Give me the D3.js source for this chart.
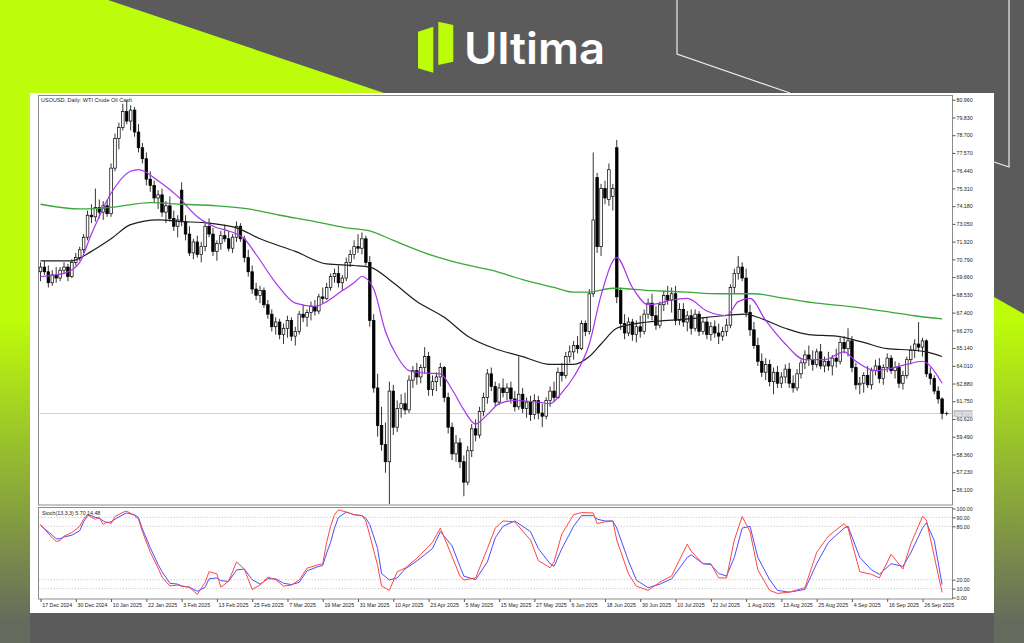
<!DOCTYPE html>
<html>
<head>
<meta charset="utf-8">
<script src="https://cdn.jsdelivr.net/npm/d3@7"></script>
<style>
    html, body { margin: 0; padding: 0; background: #5b5b5b; }
    svg { display: block; }
</style>
</head>
<body>
<svg id="chart" width="1024" height="643"></svg>
<script>
// daily bars, [open, high, low, close]
const candles = [
    // Dec 2024
    [70.0, 70.6, 69.4, 70.3], [70.3, 70.7, 69.8, 70.0], [70.0, 70.4, 69.0, 69.3], [69.3, 70.1, 69.1, 69.8],
    [69.8, 70.3, 69.3, 69.6], [69.6, 70.3, 69.4, 70.1], [70.1, 70.6, 69.9, 70.3], [70.3, 70.5, 69.4, 69.7],
    [69.7, 70.8, 69.6, 70.6], [70.6, 71.2, 70.4, 70.9], [70.9, 71.6, 70.7, 71.4],
    // Jan 2025
    [71.4, 72.4, 71.2, 72.2], [72.2, 73.9, 72.0, 73.6], [73.6, 74.3, 73.1, 73.5], [73.5, 75.3, 73.2, 74.1],
    [74.1, 74.6, 73.4, 73.8], [73.8, 74.5, 73.3, 74.2], [74.2, 74.6, 73.5, 73.7], [73.7, 76.9, 73.5, 76.6],
    [76.6, 78.8, 76.4, 78.5], [78.5, 79.5, 77.8, 79.2], [79.2, 80.7, 79.0, 80.2], [80.2, 80.9, 79.4, 79.6],
    [79.6, 80.6, 79.0, 80.3], [80.3, 80.5, 78.6, 78.9], [78.9, 79.4, 77.6, 77.9], [77.9, 78.2, 76.9, 77.2],
    [77.2, 77.6, 75.5, 75.9], [75.9, 76.4, 75.1, 75.5], [75.5, 75.8, 74.4, 74.7], [74.7, 75.2, 74.0, 74.9],
    [74.9, 75.3, 73.5, 73.8], [73.8, 74.5, 73.1, 74.2], [74.2, 74.8, 73.2, 73.4], [73.4, 73.9, 72.6, 72.9],
    [72.9, 73.6, 72.2, 73.3],
    // Feb
    [75.2, 75.7, 72.9, 73.2], [73.2, 73.6, 72.0, 72.4], [72.4, 72.9, 71.0, 71.2], [71.2, 72.1, 70.8, 71.9],
    [71.9, 72.3, 70.9, 71.1], [71.1, 71.9, 70.6, 71.6], [71.6, 73.2, 71.3, 72.9], [72.9, 73.4, 72.2, 72.4],
    [72.4, 72.8, 71.0, 71.3], [71.3, 72.0, 70.7, 71.8], [71.8, 72.6, 71.4, 72.3], [72.3, 73.0, 71.9, 72.1],
    [72.1, 72.6, 71.3, 71.5], [71.5, 72.4, 71.2, 72.2], [72.2, 73.2, 71.9, 72.9], [72.9, 73.1, 71.9, 72.1],
    [72.1, 72.3, 70.6, 70.9], [70.9, 71.4, 69.7, 70.0], [70.0, 70.4, 68.6, 68.9], [68.9, 69.3, 68.2, 68.5],
    [68.5, 69.1, 68.0, 68.8], [68.8, 69.0, 67.7, 67.9],
    // Mar
    [67.9, 68.2, 67.0, 67.3], [67.3, 67.6, 66.2, 66.5], [66.5, 67.1, 66.0, 66.8], [66.8, 67.0, 65.7, 66.0],
    [66.0, 66.7, 65.4, 66.4], [66.4, 67.2, 65.8, 66.9], [66.9, 67.1, 65.6, 65.9], [65.9, 66.5, 65.3, 66.2],
    [66.2, 67.5, 66.0, 67.3], [67.3, 67.9, 66.8, 67.1], [67.1, 67.6, 66.5, 67.4], [67.4, 68.1, 66.9, 67.8],
    [67.8, 68.2, 67.2, 67.5], [67.5, 68.6, 67.3, 68.4], [68.4, 69.0, 68.0, 68.3], [68.3, 69.3, 68.2, 69.0],
    [69.0, 69.9, 68.8, 69.7], [69.7, 70.2, 69.3, 69.9], [69.9, 70.4, 69.0, 69.3], [69.3, 69.8, 68.8, 69.6],
    [69.6, 70.9, 69.4, 70.6], [70.6, 71.4, 70.3, 71.1], [71.1, 72.0, 70.8, 71.6], [71.6, 72.4, 71.2, 71.5],
    // Apr
    [71.5, 72.5, 71.1, 72.1], [72.1, 72.3, 70.4, 70.6], [70.6, 71.0, 66.5, 66.9], [66.9, 67.3, 62.3, 62.6],
    [62.6, 63.5, 59.5, 60.2], [60.2, 61.4, 58.6, 59.0], [59.0, 60.4, 57.2, 57.9], [57.9, 63.0, 55.2, 62.4],
    [62.4, 62.8, 59.6, 60.1], [60.1, 61.8, 59.8, 61.3], [61.3, 62.2, 60.7, 61.6], [61.6, 62.3, 60.9, 61.2],
    [61.2, 63.4, 61.0, 63.1], [63.1, 64.0, 62.6, 63.7], [63.7, 64.2, 62.8, 63.3], [63.3, 64.1, 62.9, 63.9],
    [63.9, 65.2, 63.5, 64.6], [64.6, 64.9, 62.1, 62.5], [62.5, 63.4, 62.1, 63.0], [63.0, 63.6, 62.4, 63.3],
    [63.3, 64.2, 62.7, 63.9], [63.9, 64.0, 61.7, 62.0],
    // May
    [62.0, 62.3, 59.7, 60.1], [60.1, 60.4, 58.0, 58.4], [58.4, 59.6, 57.9, 59.1], [59.1, 59.4, 57.5, 57.9],
    [57.9, 58.3, 55.7, 56.6], [56.6, 58.9, 56.4, 58.6], [58.6, 60.3, 58.2, 60.0], [60.0, 60.6, 59.2, 59.6],
    [59.6, 61.4, 59.4, 61.1], [61.1, 62.3, 60.8, 62.0], [62.0, 63.8, 61.6, 63.5], [63.5, 63.9, 62.4, 62.7],
    [62.7, 63.0, 61.4, 61.7], [61.7, 62.9, 61.5, 62.6], [62.6, 63.2, 62.0, 62.3], [62.3, 62.9, 61.8, 62.6],
    [62.6, 63.0, 61.6, 61.9], [61.9, 62.4, 61.1, 61.4], [61.4, 64.6, 61.2, 62.2], [62.2, 62.6, 61.0, 61.3],
    [61.3, 62.0, 60.7, 61.7], [61.7, 62.1, 60.5, 60.9], [60.9, 62.2, 60.6, 61.8], [61.8, 62.1, 60.6, 61.0],
    [61.0, 61.6, 60.1, 60.8],
    // Jun
    [60.8, 62.0, 60.6, 61.8], [61.8, 62.7, 61.4, 62.4], [62.4, 63.0, 61.7, 62.0], [62.0, 63.9, 61.9, 63.6],
    [63.6, 64.2, 63.0, 63.4], [63.4, 64.9, 63.2, 64.6], [64.6, 65.3, 64.2, 64.9], [64.9, 65.6, 64.4, 65.3],
    [65.3, 65.9, 64.8, 65.1], [65.1, 66.9, 65.0, 66.7], [66.7, 66.9, 65.9, 66.2], [66.2, 68.9, 66.0, 68.6],
    [68.6, 77.6, 68.4, 73.3], [76.0, 76.3, 71.2, 71.6], [71.6, 75.6, 71.0, 75.3], [75.3, 75.8, 74.3, 74.7],
    [74.6, 76.9, 74.2, 76.5], [74.8, 75.6, 73.9, 75.3], [77.9, 78.4, 68.0, 68.4], [68.8, 69.0, 66.3, 66.7],
    [66.7, 67.3, 65.7, 66.1], [66.1, 67.1, 65.9, 66.8], [66.8, 67.0, 65.6, 66.0], [66.0, 66.9, 65.5, 66.5],
    [66.5, 67.2, 65.8, 66.2],
    // Jul
    [66.2, 67.6, 66.0, 67.3], [67.3, 68.3, 67.0, 68.0], [68.0, 68.6, 66.9, 67.2], [67.2, 67.8, 66.3, 66.6],
    [66.6, 68.1, 66.4, 67.9], [67.9, 68.8, 67.5, 68.5], [68.5, 69.1, 67.9, 68.2], [68.2, 69.0, 67.4, 68.6],
    [68.6, 69.1, 66.6, 66.9], [66.9, 68.0, 66.6, 67.6], [67.6, 68.0, 66.5, 66.8], [66.8, 67.5, 66.2, 67.2],
    [67.2, 67.6, 66.0, 66.4], [66.4, 67.6, 66.2, 67.3], [67.3, 67.5, 65.9, 66.2], [66.2, 67.1, 66.0, 66.8],
    [66.8, 67.1, 65.7, 66.0], [66.0, 66.8, 65.6, 66.5], [66.5, 66.9, 65.8, 66.1], [66.1, 66.7, 65.4, 65.9],
    [65.9, 66.5, 65.6, 66.2], [66.2, 67.0, 65.9, 66.6], [66.6, 69.2, 66.4, 69.0], [69.0, 70.2, 68.6, 69.9],
    [69.9, 71.0, 69.5, 70.3], [70.3, 70.6, 69.4, 69.6],
    // Aug
    [69.6, 70.2, 67.1, 67.4], [67.4, 67.9, 65.9, 66.3], [66.3, 66.8, 65.1, 65.3], [65.3, 65.8, 64.0, 64.3],
    [64.3, 64.8, 63.3, 63.6], [63.6, 64.5, 63.1, 64.1], [64.1, 64.4, 62.7, 63.0], [63.0, 63.9, 62.2, 63.6],
    [63.6, 64.0, 62.6, 62.9], [62.9, 63.6, 62.6, 63.3], [63.3, 64.1, 62.9, 63.8], [63.8, 64.2, 62.6, 62.9],
    [62.9, 63.4, 62.3, 62.6], [62.6, 63.8, 62.4, 63.5], [63.5, 64.4, 63.2, 64.2], [64.2, 65.0, 63.8, 64.7],
    [64.7, 65.3, 64.0, 64.4], [64.4, 65.0, 63.7, 64.1], [64.1, 65.1, 63.9, 64.9], [64.9, 65.4, 63.8, 64.0],
    [64.0, 64.6, 63.6, 64.3], [64.3, 64.9, 63.7, 64.0], [64.0, 64.7, 63.4, 64.5], [64.5, 65.1, 63.9, 64.3],
    // Sep
    [64.3, 65.8, 64.1, 65.5], [65.5, 65.9, 64.8, 65.1], [65.1, 66.4, 64.6, 65.6], [65.6, 65.9, 63.6, 63.9],
    [63.9, 64.2, 62.5, 62.8], [62.8, 63.3, 62.2, 62.9], [62.9, 63.6, 62.3, 63.4], [63.4, 64.0, 62.6, 62.8],
    [62.8, 63.9, 62.5, 63.7], [63.7, 64.4, 63.4, 64.0], [64.0, 64.5, 62.9, 63.2], [63.2, 64.1, 62.8, 63.9],
    [63.9, 64.8, 63.6, 64.5], [64.5, 64.7, 63.5, 63.7], [63.7, 64.3, 63.2, 63.9], [63.9, 64.2, 62.6, 62.9],
    [62.9, 63.7, 62.5, 63.4], [63.4, 64.6, 63.2, 64.4], [64.4, 65.3, 64.1, 65.0], [65.0, 65.7, 64.5, 65.4],
    [65.4, 66.8, 64.9, 65.2], [65.2, 65.8, 64.6, 65.6], [65.6, 65.7, 63.3, 63.5], [63.5, 63.9, 62.8, 63.2],
    // Oct
    [63.2, 63.4, 62.2, 62.4], [62.4, 62.7, 61.6, 61.9], [61.9, 62.0, 60.6, 60.97]
]

// a date label every 9 bars
const dateLabels = ['17 Dec 2024', '30 Dec 2024', '10 Jan 2025', '22 Jan 2025', '3 Feb 2025', '13 Feb 2025',
    '25 Feb 2025', '7 Mar 2025', '19 Mar 2025', '31 Mar 2025', '10 Apr 2025', '23 Apr 2025', '5 May 2025',
    '15 May 2025', '27 May 2025', '6 Jun 2025', '18 Jun 2025', '30 Jun 2025', '10 Jul 2025', '22 Jul 2025',
    '1 Aug 2025', '13 Aug 2025', '25 Aug 2025', '4 Sep 2025', '16 Sep 2025', '26 Sep 2025']

const priceTicks = [80.96, 79.83, 78.70, 77.57, 76.44, 75.31, 74.18, 73.05, 71.92, 70.79, 69.66, 68.53,
    67.40, 66.27, 65.14, 64.01, 62.88, 61.75, 60.62, 59.49, 58.36, 57.23, 56.10]
const stochTicks = [100, 90, 80, 20, 10, 0]
const stochLevels = [90, 80, 20, 10]
const lastPrice = 60.97

// moving averages, [bar, value]
const maFast = [[0, 69.7], [6, 69.9], [10, 70.6], [13, 72.4], [18, 75.0], [23, 76.4], [25, 76.5], [30, 75.8],
    [35, 74.8], [40, 73.5], [45, 72.8], [48, 72.6], [52, 72.1], [55, 71.1], [60, 69.3], [65, 68.0], [70, 67.8],
    [73, 68.1], [77, 68.8], [80, 69.3], [82, 69.7], [85, 68.9], [88, 66.2], [91, 64.6], [94, 63.7], [96, 63.6],
    [102, 63.5], [105, 62.5], [108, 61.2], [111, 60.3], [114, 60.9], [117, 61.6], [121, 61.8], [127, 61.7],
    [130, 61.6], [133, 62.3], [136, 63.3], [140, 65.4], [143, 68.5], [147, 70.9], [151, 69.0], [155, 67.9],
    [158, 68.0], [161, 68.2], [165, 68.3], [170, 67.5], [175, 67.2], [178, 68.1], [181, 68.3], [185, 66.9],
    [190, 65.4], [195, 64.4], [200, 64.4], [205, 64.9], [208, 64.3], [213, 63.7], [216, 63.8], [221, 64.1],
    [225, 64.3], [226, 64.2], [230, 62.9]]
const maMid = [[0, 70.7], [8, 70.7], [13, 71.3], [18, 72.1], [23, 73.0], [30, 73.3], [36, 73.2], [43, 73.1],
    [50, 72.8], [56, 72.1], [65, 71.3], [73, 70.5], [80, 70.4], [84, 70.3], [90, 69.3], [96, 68.1], [103, 67.1],
    [109, 65.9], [116, 65.1], [123, 64.6], [130, 64.1], [136, 64.1], [140, 64.6], [143, 65.4], [147, 66.4],
    [152, 66.7], [160, 66.9], [170, 67.1], [180, 67.3], [183, 67.1], [190, 66.4], [196, 66.0], [203, 65.9],
    [210, 65.5], [216, 65.1], [223, 65.0], [226, 64.9], [230, 64.6]]
const maSlow = [[0, 74.3], [10, 74.0], [18, 74.1], [28, 74.4], [36, 74.3], [45, 74.2], [53, 74.0], [61, 73.6],
    [70, 73.2], [78, 72.8], [84, 72.6], [90, 72.0], [98, 71.2], [106, 70.6], [115, 70.1], [123, 69.5],
    [131, 69.0], [136, 68.7], [140, 68.7], [146, 68.95], [156, 68.8], [165, 68.7], [173, 68.6], [182, 68.6],
    [190, 68.3], [198, 68.0], [206, 67.8], [215, 67.5], [223, 67.2], [230, 67.0]]

// Stoch(13,3,3), [bar, value]
const stochMain = [[0, 82], [3, 67], [4, 63], [5, 64], [6, 69], [8, 73], [10, 80], [11, 88], [12, 93.5], [13, 90],
    [14, 88], [15, 90], [16, 82], [17, 85], [18, 83], [19, 91], [21, 95.7], [22, 97], [24, 92], [25, 88], [26, 74],
    [28, 51], [30, 33], [31, 23], [33, 13], [35, 14], [36, 12.7], [38, 11.5], [40, 3.5], [42, 17], [43, 29],
    [45, 26.5], [46, 11.5], [48, 18.4], [50, 40], [52, 32], [54, 9], [56, 14], [58, 23], [60, 20], [62, 12.7],
    [64, 14], [66, 19.6], [68, 33], [71, 37], [72, 38], [73, 62], [74, 80], [75, 93], [76, 98.5], [78, 96],
    [80, 93], [82, 92], [83, 86], [84, 70], [86, 36], [87, 13], [89, 8], [91, 29], [93, 33], [96, 44], [100, 62],
    [102, 78], [105, 46], [107, 24], [108, 19.6], [111, 22], [114, 55], [116, 78], [118, 86], [121, 85],
    [125, 64.6], [127, 41.5], [130, 33.4], [131, 40], [133, 71.5], [136, 93], [138, 95.4], [141, 95], [142, 83],
    [144, 85], [146, 86], [147, 64.6], [150, 26.5], [152, 12.7], [155, 8], [158, 17.3], [161, 24.2], [165, 60],
    [166, 52], [169, 38], [171, 38], [173, 22], [175, 22], [177, 64.6], [179, 91], [181, 74], [183, 31], [186, 8],
    [188, 4.6], [191, 6], [195, 11], [198, 50.7], [201, 69], [205, 83], [206, 78], [209, 29], [212, 26], [214, 22],
    [217, 48.5], [220, 32], [222, 60], [225, 91], [226, 87], [228, 46], [230, 5.7]]
const stochSignal = [[0, 81], [3, 70], [4, 66], [5, 66], [6, 68], [8, 70], [10, 75], [11, 85], [12, 92], [13, 92],
    [14, 90], [15, 89], [16, 86], [17, 84], [18, 85], [19, 88], [21, 93], [22, 95], [24, 93], [25, 90], [26, 77],
    [28, 56], [30, 37], [31, 29], [33, 16], [35, 15], [36, 13], [38, 11.5], [40, 7], [42, 11.5], [43, 21], [45, 22],
    [46, 19], [48, 18], [50, 31], [52, 32], [54, 20], [56, 15], [58, 21], [60, 21], [62, 16], [64, 14.5], [66, 17],
    [68, 30], [71, 35], [72, 36], [73, 50], [74, 62], [75, 78], [76, 90], [78, 96], [80, 93], [82, 92], [83, 89],
    [84, 82], [86, 55], [87, 27], [89, 19.6], [91, 22], [93, 32], [96, 41], [100, 55], [102, 74], [105, 58],
    [107, 35], [108, 24], [111, 20], [114, 40], [116, 67], [118, 80], [121, 86], [125, 74], [127, 55], [130, 38],
    [131, 35], [133, 55], [136, 80], [138, 92], [141, 92], [142, 88], [144, 86], [146, 86], [147, 78], [150, 41],
    [152, 19.6], [155, 11], [158, 15], [161, 21], [165, 45], [166, 48], [169, 38], [171, 37], [173, 27], [175, 24],
    [177, 45], [179, 78], [181, 80], [183, 45], [186, 20], [188, 8], [191, 6], [195, 9], [198, 38], [201, 62],
    [205, 78], [206, 80], [209, 45], [212, 31], [214, 26], [217, 38], [220, 35], [222, 50], [225, 78], [226, 84],
    [228, 64], [230, 14.48]]

class OilChart {
    constructor() {
        this.svg = null
        this.lime = '#bdfc0a'
        this.gray = '#5b5b5b'
        this.frame = '#8c8c8c'
        this.font = '"Liberation Sans", Arial, sans-serif'
        this.plot = { left: 38.5, right: 952.5, top: 95.5, bottom: 505 }
        this.sub = { top: 507.5, bottom: 599 }
    }

    init() {
        this.svg = d3.select('#chart')
        this.x = d3.scaleLinear().domain([0, candles.length - 1]).range([40.5, 942.1])
        this.y = d3.scaleLinear().domain([56.10, 80.96]).range([490, 99.7])
        this.ys = d3.scaleLinear().domain([0, 100]).range([597.5, 508.5])

        this.drawBackground()
        this.drawLogo()
        this.drawFrame()
        this.drawCandles()
        this.drawAverages()
        this.drawStoch()
        this.drawAxes()
    }

    drawBackground() {
        const defs = this.svg.append('defs')
        const grad = defs.append('linearGradient')
            .attr('id', 'limeFade')
            .attr('gradientUnits', 'userSpaceOnUse')
            .attr('x1', 0).attr('y1', 0).attr('x2', 0).attr('y2', 643)
        grad.append('stop').attr('offset', 0).attr('stop-color', this.lime)
        grad.append('stop').attr('offset', 0.5).attr('stop-color', this.lime)
        grad.append('stop').attr('offset', 0.97).attr('stop-color', '#656a5e')

        this.svg.append('rect')
            .attr('width', 1024).attr('height', 643)
            .attr('fill', this.gray)

        this.svg.append('path')
            .attr('d', 'M0,0 L108,0 L384,93 L30,93 L30,643 L0,643 Z')
            .attr('fill', 'url(#limeFade)')
        this.svg.append('path')
            .attr('d', 'M994,297 L1024,314 L1024,643 L994,643 Z')
            .attr('fill', 'url(#limeFade)')

        this.svg.append('polyline')
            .attr('points', '677,0 677,54 790,93')
            .attr('fill', 'none').attr('stroke', '#ececec').attr('stroke-width', 1.2)
        this.svg.append('polyline')
            .attr('points', '994,162 1009,167 1009,0')
            .attr('fill', 'none').attr('stroke', '#ececec').attr('stroke-width', 1.2)

        this.svg.append('rect')
            .attr('x', 30).attr('y', 93)
            .attr('width', 964).attr('height', 520)
            .attr('fill', '#ffffff')
    }

    drawLogo() {
        const logo = this.svg.append('g')
        logo.append('polygon')
            .attr('points', '418,31.7 433.3,26.7 433.3,72.7 418,68.3')
            .attr('fill', this.lime)
        logo.append('polygon')
            .attr('points', '438.3,21.7 453.3,25 453.3,61.7 438.3,65')
            .attr('fill', this.lime)
        logo.append('text')
            .attr('x', 464).attr('y', 64)
            .attr('font-family', 'Inter, "Open Sans", sans-serif')
            .attr('font-weight', 600)
            .attr('font-size', 44)
            .attr('textLength', 141)
            .attr('lengthAdjust', 'spacingAndGlyphs')
            .attr('fill', '#ffffff')
            .text('Ultima')
    }

    drawFrame() {
        const p = this.plot
        this.svg.append('rect')
            .attr('x', p.left).attr('y', p.top)
            .attr('width', p.right - p.left).attr('height', p.bottom - p.top)
            .attr('fill', 'none').attr('stroke', this.frame)
        this.svg.append('rect')
            .attr('x', p.left).attr('y', this.sub.top)
            .attr('width', p.right - p.left).attr('height', this.sub.bottom - this.sub.top)
            .attr('fill', 'none').attr('stroke', this.frame)

        // current price line
        this.svg.append('line')
            .attr('x1', p.left).attr('x2', p.right)
            .attr('y1', this.y(lastPrice)).attr('y2', this.y(lastPrice))
            .attr('stroke', '#c4c4c4').attr('stroke-width', 0.8)

        this.svg.append('text')
            .attr('x', 41).attr('y', 101.5)
            .attr('font-family', this.font).attr('font-size', 5.5).attr('fill', '#222')
            .text('USOUSD, Daily:  WTI Crude Oil Cash')
    }

    drawCandles() {
        const g = this.svg.append('g')
        const bodyW = 2.6

        g.selectAll('.wick')
            .data(candles)
            .enter()
            .append('line')
            .attr('class', 'wick')
            .attr('x1', (d, i) => this.x(i))
            .attr('x2', (d, i) => this.x(i))
            .attr('y1', (d) => this.y(d[1]))
            .attr('y2', (d) => this.y(d[2]))
            .attr('stroke', '#000')
            .attr('stroke-width', 0.8)

        g.selectAll('.body')
            .data(candles)
            .enter()
            .append('rect')
            .attr('class', 'body')
            .attr('x', (d, i) => this.x(i) - bodyW / 2)
            .attr('y', (d) => this.y(Math.max(d[0], d[3])))
            .attr('width', bodyW)
            .attr('height', (d) => Math.max(0.6, Math.abs(this.y(d[0]) - this.y(d[3]))))
            .attr('fill', (d) => d[3] >= d[0] ? '#ffffff' : '#000000')
            .attr('stroke', '#000')
            .attr('stroke-width', 0.7)

        // small cross after the last bar
        const cx = this.x(candles.length - 1) + 4.5
        const cy = this.y(lastPrice)
        g.append('path')
            .attr('d', `M${cx - 2},${cy} H${cx + 2} M${cx},${cy - 2} V${cy + 2}`)
            .attr('stroke', '#000').attr('stroke-width', 0.7)
    }

    drawAverages() {
        const line = d3.line()
            .x((d) => this.x(d[0]))
            .y((d) => this.y(d[1]))
            .curve(d3.curveMonotoneX)

        const series = [
            { data: maSlow, color: '#3aa83a', width: 1.3 },
            { data: maMid, color: '#1e1e1e', width: 1.2 },
            { data: maFast, color: '#a833ee', width: 1.2 }
        ]

        this.svg.append('g')
            .selectAll('path')
            .data(series)
            .enter()
            .append('path')
            .attr('d', (d) => line(d.data))
            .attr('fill', 'none')
            .attr('stroke', (d) => d.color)
            .attr('stroke-width', (d) => d.width)
    }

    drawStoch() {
        const p = this.plot
        const g = this.svg.append('g')

        g.selectAll('.level')
            .data(stochLevels)
            .enter()
            .append('line')
            .attr('class', 'level')
            .attr('x1', p.left).attr('x2', p.right)
            .attr('y1', (d) => this.ys(d)).attr('y2', (d) => this.ys(d))
            .attr('stroke', '#b4b4b4')
            .attr('stroke-width', 0.6)
            .attr('stroke-dasharray', '1.5,1.5')

        const line = d3.line()
            .x((d) => this.x(d[0]))
            .y((d) => this.ys(d[1]))

        g.append('path')
            .attr('d', line(stochSignal))
            .attr('fill', 'none').attr('stroke', '#4d4dff').attr('stroke-width', 1)
        g.append('path')
            .attr('d', line(stochMain))
            .attr('fill', 'none').attr('stroke', '#ff4545').attr('stroke-width', 1)

        g.append('text')
            .attr('x', 42).attr('y', 514.5)
            .attr('font-family', this.font).attr('font-size', 5.3).attr('fill', '#222')
            .text('Stoch(13,3,3) 5.70 14.48')
    }

    styleAxis(axisG) {
        axisG.attr('font-family', this.font).attr('font-size', 5.3)
        axisG.select('.domain').remove()
        axisG.selectAll('line').attr('stroke', '#555')
        axisG.selectAll('text').attr('fill', '#222')
    }

    drawAxes() {
        const p = this.plot

        const priceAxis = this.svg.append('g')
            .attr('transform', `translate(${p.right},0)`)
            .call(d3.axisRight(this.y).tickValues(priceTicks).tickSize(3).tickPadding(1)
                .tickFormat(d3.format('.3f')))
        this.styleAxis(priceAxis)

        const stochAxis = this.svg.append('g')
            .attr('transform', `translate(${p.right},0)`)
            .call(d3.axisRight(this.ys).tickValues(stochTicks).tickSize(3).tickPadding(1)
                .tickFormat(d3.format('.2f')))
        this.styleAxis(stochAxis)

        const dateAxis = this.svg.append('g')
            .attr('transform', `translate(0,${this.sub.bottom})`)
            .call(d3.axisBottom(this.x).tickValues(dateLabels.map((d, i) => i * 9)).tickSize(3).tickPadding(1)
                .tickFormat((d, i) => dateLabels[i]))
        this.styleAxis(dateAxis)
        dateAxis.selectAll('text').attr('text-anchor', 'start').attr('x', 1.2)

        // price tag on the axis
        const ty = this.y(lastPrice)
        this.svg.append('rect')
            .attr('x', p.right + 1).attr('y', ty - 3.6)
            .attr('width', 19).attr('height', 7.2)
            .attr('fill', '#c6c6c6')
        this.svg.append('text')
            .attr('x', p.right + 3).attr('y', ty + 2)
            .attr('font-family', this.font).attr('font-size', 5.3).attr('fill', '#ffffff')
            .text(d3.format('.3f')(lastPrice))
    }
}

const chart = new OilChart()
chart.init()
</script>
</body>
</html>
